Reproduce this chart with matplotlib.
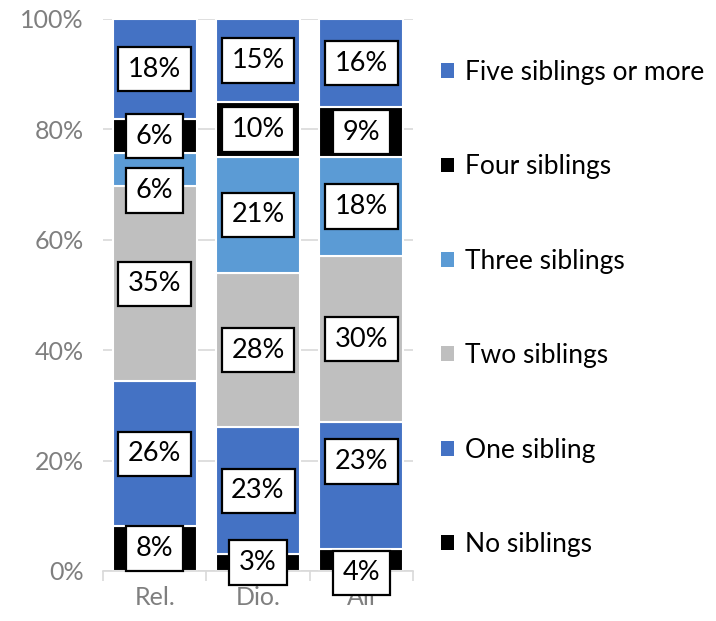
import matplotlib
matplotlib.use("Agg")
import matplotlib.pyplot as plt
from matplotlib.patches import Patch
import numpy as np

plt.rcParams['font.family'] = ['Lato', 'DejaVu Sans']

groups = ["Rel.", "Dio.", "All"]
series = ["No siblings", "One sibling", "Two siblings",
          "Three siblings", "Four siblings", "Five siblings or more"]
no_sib = [8, 3, 4]
one_sib = [26, 23, 23]
two_sib = [35, 28, 30]
three_sib = [6, 21, 18]
four_sib = [6, 10, 9]
five_sib = [18, 15, 16]
colors = ["#000000", "#4472C4", "#BFBFBF", "#5B9BD5", "#000000", "#4472C4"]

# vertical nudges (pixels) for labels that would otherwise collide
label_nudge = {(0, 3): -21, (2, 0): -13, (2, 1): 24}

values = np.array([no_sib, one_sib, two_sib, three_sib, four_sib, five_sib], dtype=float)
shares = values / values.sum(axis=0)

fig = plt.figure(figsize=(7.16, 6.21), dpi=100)
ax = fig.add_axes([103 / 716, 50 / 621, 310 / 716, 552 / 621])

x = np.arange(len(groups))
bottom = np.zeros(len(groups))
for i, name in enumerate(series):
    ax.bar(x, shares[i], 0.81, bottom=bottom, color=colors[i],
           edgecolor="white", linewidth=1.5, label=name, zorder=2)
    for j in range(len(groups)):
        yc = bottom[j] + shares[i][j] / 2
        ax.annotate(f"{int(values[i][j])}%", (x[j], yc),
                    xytext=(0, label_nudge.get((j, i), 0)), textcoords="offset pixels",
                    ha="center", va="center", fontsize=19.5, color="black", zorder=5,
                    bbox=dict(boxstyle="square,pad=0.36", fc="white", ec="black", lw=1.6))
    bottom += shares[i]

ax.set_xlim(-0.5, 2.5)
ax.set_ylim(0, 1)
ax.set_yticks(np.linspace(0, 1, 6))
ax.set_yticklabels([f"{int(v)}%" for v in np.linspace(0, 100, 6)])
ax.yaxis.grid(True, color="#D9D9D9", linewidth=1.2, zorder=0)
ax.set_axisbelow(True)
ax.tick_params(axis="y", length=0, labelsize=18, labelcolor="#7F7F7F", pad=14)

ax.set_xticks(x)
ax.set_xticklabels(groups)
ax.set_xticks([-0.5, 0.5, 1.5, 2.5], minor=True)
ax.tick_params(axis="x", which="major", length=0, labelsize=18, labelcolor="#7F7F7F", pad=11)
ax.tick_params(axis="x", which="minor", length=7, color="#D9D9D9", width=1.2)

for s in ["left", "right", "top"]:
    ax.spines[s].set_visible(False)
ax.spines["bottom"].set_color("#D9D9D9")
ax.spines["bottom"].set_linewidth(1.2)

handles = [Patch(facecolor=colors[i], edgecolor="none") for i in range(len(series))][::-1]
labels = series[::-1]
fig.legend(handles, labels, loc="upper left", bbox_to_anchor=(441 / 716, 1 - 60 / 621),
           frameon=False, fontsize=19, handlelength=0.48, handleheight=0.48,
           handletextpad=0.42, labelspacing=2.63, borderpad=0, borderaxespad=0)

fig.savefig("out.png", dpi=100)
